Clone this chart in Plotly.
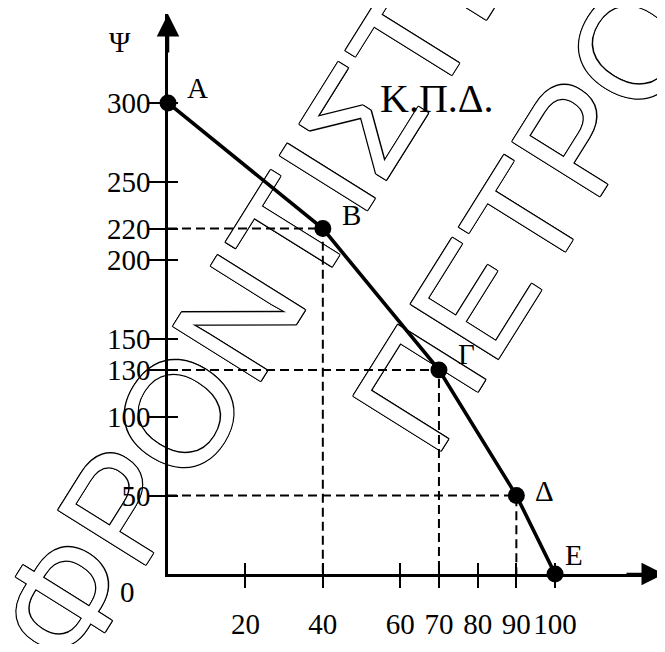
import plotly.graph_objects as go
import math

# ---- data ----
point_names = ["A", "B", "Γ", "Δ", "E"]
x_values = [0, 40, 70, 90, 100]
y_values = [300, 220, 130, 50, 0]
guide_names = ["B", "Γ", "Δ"]
x_tickvals = [20, 40, 60, 70, 80, 90, 100]
y_tickvals = [50, 100, 130, 150, 200, 220, 250, 300]
curve_title = "Κ.Π.Δ."
y_axis_title = "Ψ"
watermark_lines = ["ΦΡΟΝΤΙΣΤΗΡΙΟ", "ΠΕΤΡΟΠΟΥΛΟΥ"]

# page body has an 8px margin: figure is sized/offset to fill the 665x652 window
OFF = 8
W, H = 657, 636
ML, MR, MT, MB = 160, 0, 6, 70
XMAX, YMAX = 128.4, 356.7
SERIF = "Liberation Serif"
SANS = "Liberation Sans"

fig = go.Figure()

# dashed guide lines (built from data points)
gx, gy = [], []
for name in guide_names:
    i = point_names.index(name)
    gx += [0, x_values[i], x_values[i], None]
    gy += [y_values[i], y_values[i], 0, None]
fig.add_trace(go.Scatter(x=gx, y=gy, mode="lines", xaxis="x2", yaxis="y2",
                         line=dict(color="black", width=2, dash="9px,5px"),
                         hoverinfo="skip", showlegend=False, cliponaxis=False))

# main curve
fig.add_trace(go.Scatter(x=x_values, y=y_values, mode="lines+markers",
                         line=dict(color="black", width=3.6),
                         marker=dict(color="black", size=17),
                         showlegend=False, cliponaxis=False))

annotations = []
label_shift = {"A": (29, 15), "B": (29, 14), "Γ": (28, 16), "Δ": (28, 5), "E": (19, 19)}
for n, xv, yv in zip(point_names, x_values, y_values):
    dx, dy = label_shift[n]
    annotations.append(dict(x=xv, y=yv, xref="x", yref="y", text=n, showarrow=False,
                            xanchor="center", yanchor="middle",
                            xshift=dx, yshift=dy, font=dict(family=SERIF, size=29, color="black")))

def paper(px, py):
    # px, py: window pixel coordinates
    px -= OFF
    py -= OFF
    return (px - ML) / (W - ML - MR), (H - MB - py) / (H - MT - MB)

# "0" at origin
annotations.append(dict(x=0, y=0, xref="x", yref="y", text="0", showarrow=False,
                        xanchor="center", yanchor="middle",
                        xshift=-41, yshift=-18, font=dict(family=SERIF, size=29, color="black")))
# Ψ axis title
px, py = paper(120, 42)
annotations.append(dict(x=px, y=py, xref="paper", yref="paper", text=y_axis_title, showarrow=False,
                        xanchor="center", yanchor="middle",
                        font=dict(family=SERIF, size=29, color="black")))
# curve title
px, py = paper(437, 98)
annotations.append(dict(x=px, y=py, xref="paper", yref="paper", text=curve_title, showarrow=False,
                        xanchor="center", yanchor="middle",
                        font=dict(family=SERIF, size=40, color="black")))
# axis arrows
annotations.append(dict(x=1, y=0, xref="paper", yref="paper", ax=-40, ay=0, text="",
                        showarrow=True, arrowhead=2, arrowsize=1.8, arrowwidth=2.5, arrowcolor="black"))
annotations.append(dict(x=0, y=1, xref="paper", yref="paper", ax=0, ay=40, text="",
                        showarrow=True, arrowhead=2, arrowsize=1.8, arrowwidth=2.5, arrowcolor="black"))

# watermark as outlined text in a shape label below the data
angle = 58
ca, sa = math.cos(math.radians(angle)), math.sin(math.radians(angle))
outline = ",".join(f"{a}px {b}px 0 #000" for a, b in
                   [(1, 0), (-1, 0), (0, 1), (0, -1), (1, 1), (-1, -1), (1, -1), (-1, 1)])
shapes = []
for txt, (cx, cy) in zip(watermark_lines, [(319, 163), (679, -55)]):
    x0, y0 = paper(cx - 5 * ca, cy + 5 * sa)
    x1, y1 = paper(cx + 5 * ca, cy - 5 * sa)
    shapes.append(dict(type="line", xref="paper", yref="paper", x0=x0, y0=y0, x1=x1, y1=y1,
                       layer="below", line=dict(color="rgba(0,0,0,0)", width=1),
                       label=dict(text=txt, textangle=-angle, textposition="middle",
                                  xanchor="center", yanchor="middle", padding=0,
                                  font=dict(family=SANS, size=150, color="white", shadow=outline))))

axis_common = dict(showgrid=False, zeroline=False, tickcolor="black", tickwidth=2)
fig.update_layout(
    width=W, height=H, margin=dict(l=ML, r=MR, t=MT, b=MB),
    paper_bgcolor="white", plot_bgcolor="white",
    xaxis=dict(range=[0, XMAX], tickmode="array", tickvals=x_tickvals, ticks="outside", ticklen=11,
               showline=True, linecolor="black", linewidth=2.6, ticklabelstandoff=11,
               tickfont=dict(family=SERIF, size=29, color="black"), **axis_common),
    yaxis=dict(range=[0, YMAX], tickmode="array", tickvals=y_tickvals, ticks="outside", ticklen=16,
               showline=True, linecolor="black", linewidth=2.6, ticklabelstandoff=-7,
               tickfont=dict(family=SERIF, size=29, color="black"), **axis_common),
    xaxis2=dict(range=[0, XMAX], overlaying="x", anchor="y2", tickmode="array", tickvals=x_tickvals,
                ticks="inside", ticklen=11, showticklabels=False, showline=False, **axis_common),
    yaxis2=dict(range=[0, YMAX], overlaying="y", anchor="x2", tickmode="array", tickvals=y_tickvals,
                ticks="inside", ticklen=10, showticklabels=False, showline=False, **axis_common),
    annotations=annotations, shapes=shapes, showlegend=False,
)
fig.write_html("out.html")
